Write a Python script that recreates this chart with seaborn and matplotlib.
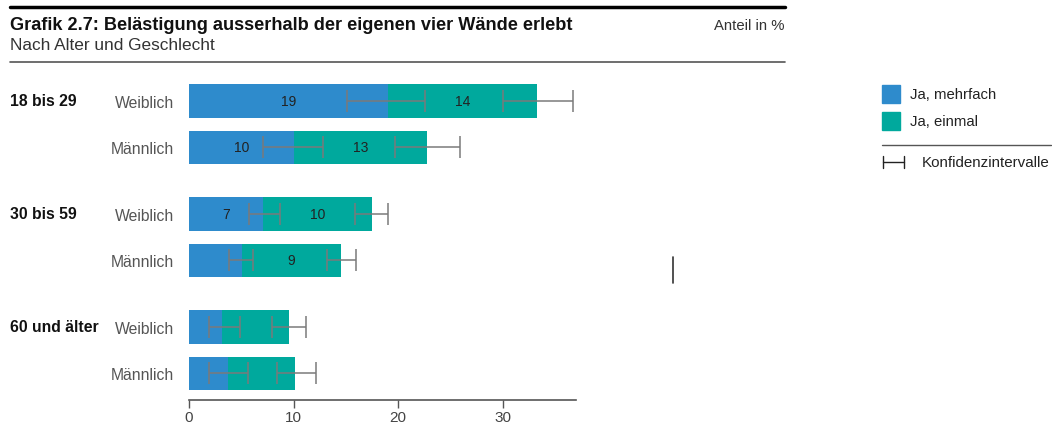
import matplotlib
matplotlib.use("Agg")
import matplotlib.pyplot as plt
import matplotlib.transforms as mtransforms
from matplotlib.lines import Line2D
from matplotlib.patches import Rectangle
import seaborn as sns
import pandas as pd
import numpy as np

sns.set_style("white")
plt.rcParams['font.family'] = ['Liberation Sans', 'DejaVu Sans']

# ---- data ----
groups = ["18 bis 29", "30 bis 59", "60 und älter"]
sexes = ["Weiblich", "Männlich"]
mehrfach = [19.0, 10.0, 7.1, 5.1, 3.2, 3.7]
einmal = [14.3, 12.8, 10.4, 9.4, 6.4, 6.4]
mehrfach_lo = [15.1, 7.1, 5.7, 3.8, 1.9, 1.9]
mehrfach_hi = [22.6, 12.8, 8.7, 6.1, 4.9, 5.6]
total_lo = [30.0, 19.7, 15.9, 13.2, 7.9, 8.4]
total_hi = [36.7, 25.9, 19.0, 16.0, 11.2, 12.1]
xticks = [0, 10, 20, 30]
legend_labels = ["Ja, mehrfach", "Ja, einmal", "Konfidenzintervalle"]
title = "Grafik 2.7: Belästigung ausserhalb der eigenen vier Wände erlebt"
subtitle = "Nach Alter und Geschlecht"
unit = "Anteil in %"

BLUE = "#2E8BCC"
GREEN = "#00A99D"
ERR = "#7a7a7a"

# positions (layout)
gap = 0.43
pos = []
for gi in range(len(groups)):
    for si in range(len(sexes)):
        pos.append(gi * (len(sexes) + gap) + si)
pos = np.array(pos)

mehrfach = np.array(mehrfach)
einmal = np.array(einmal)
total = mehrfach + einmal

df = pd.DataFrame({"pos": pos, "mehrfach": mehrfach, "total": total})

W, H = 1052, 427
fig = plt.figure(figsize=(W / 100, H / 100), dpi=100)
ax = fig.add_axes([189 / W, 1 - 401 / H, (576 - 189) / W, (401 - 80) / H])

sns.barplot(data=df, x="total", y="pos", orient="h", native_scale=True,
            color=GREEN, saturation=1, width=0.72, ax=ax, errorbar=None)
sns.barplot(data=df, x="mehrfach", y="pos", orient="h", native_scale=True,
            color=BLUE, saturation=1, width=0.72, ax=ax, errorbar=None)
for p in ax.patches:
    p.set_linewidth(0)

# error bars
m_lo = np.array(mehrfach_lo); m_hi = np.array(mehrfach_hi)
t_lo = np.array(total_lo); t_hi = np.array(total_hi)
ax.errorbar((m_lo + m_hi) / 2, pos, xerr=(m_hi - m_lo) / 2, fmt="none",
            ecolor=ERR, elinewidth=1.1, capsize=8, capthick=1.1)
ax.errorbar((t_lo + t_hi) / 2, pos, xerr=(t_hi - t_lo) / 2, fmt="none",
            ecolor=ERR, elinewidth=1.1, capsize=8, capthick=1.1)

# value labels
for y, m, e in zip(pos, mehrfach, einmal):
    if m >= 7:
        ax.text(m / 2, y, f"{m:.0f}", ha="center", va="center", fontsize=10, color="#222222")
    if e >= 7:
        ax.text(m + e / 2, y, f"{e:.0f}", ha="center", va="center", fontsize=10, color="#222222")

ax.set_xlim(0, 37)
ax.set_ylim(pos[-1] + 0.57, -0.47)
ax.set_xticks(xticks)
ax.set_xticklabels([str(t) for t in xticks], fontsize=11, color="#444444")
ax.set_yticks(pos)
ax.set_yticklabels([sexes[i % 2] for i in range(len(pos))], fontsize=11.3, color="#555555")
ax.tick_params(axis="y", length=0, pad=11)
ax.tick_params(axis="x", direction="out", length=6, width=1, color="#555555", pad=1.5, bottom=True)
ax.set_xlabel("")
ax.set_ylabel("")
for s in ["top", "right", "left"]:
    ax.spines[s].set_visible(False)
ax.spines["bottom"].set_color("#555555")
ax.spines["bottom"].set_linewidth(1.2)

# group labels
gtrans = mtransforms.blended_transform_factory(fig.transFigure, ax.transData)
for gi, g in enumerate(groups):
    y = pos[gi * len(sexes)]
    ax.text(10 / W, y, g, transform=gtrans, fontsize=11.3,
            fontweight="bold", ha="left", va="center", color="#111111")

# header
fig.add_artist(Line2D([10 / W, 785 / W], [1 - 8 / H, 1 - 8 / H], color="black", lw=2.5))
fig.text(10 / W, 1 - 25 / H, title, fontsize=13.1, fontweight="bold", ha="left", va="center", color="#111111")
fig.text(10 / W, 1 - 46 / H, subtitle, fontsize=12.4, ha="left", va="center", color="#333333")
fig.text(785 / W, 1 - 26 / H, unit, fontsize=10.7, ha="right", va="center", color="#333333")
fig.add_artist(Line2D([10 / W, 785 / W], [1 - 63 / H, 1 - 63 / H], color="#555555", lw=1.2))

# legend
fig.add_artist(Rectangle((882 / W, 1 - 104 / H), 18 / W, 18 / H, color=BLUE, transform=fig.transFigure))
fig.add_artist(Rectangle((882 / W, 1 - 131 / H), 18 / W, 18 / H, color=GREEN, transform=fig.transFigure))
fig.text(910 / W, 1 - 95 / H, legend_labels[0], fontsize=10.7, ha="left", va="center", color="#222222")
fig.text(910 / W, 1 - 122 / H, legend_labels[1], fontsize=10.7, ha="left", va="center", color="#222222")
fig.add_artist(Line2D([882 / W, 1051 / W], [1 - 146 / H, 1 - 146 / H], color="#555555", lw=1))
fig.add_artist(Line2D([883 / W, 904 / W], [1 - 163 / H, 1 - 163 / H], color="#222222", lw=1))
fig.add_artist(Line2D([883 / W, 883 / W], [1 - 157 / H, 1 - 169 / H], color="#222222", lw=1))
fig.add_artist(Line2D([904 / W, 904 / W], [1 - 157 / H, 1 - 169 / H], color="#222222", lw=1))
fig.text(922 / W, 1 - 163 / H, legend_labels[2], fontsize=10.9, ha="left", va="center", color="#222222")

# stray mark in reference
fig.add_artist(Line2D([673 / W, 673 / W], [1 - 258 / H, 1 - 284 / H], color="#333333", lw=1.2))

fig.savefig("out.png", dpi=100)
